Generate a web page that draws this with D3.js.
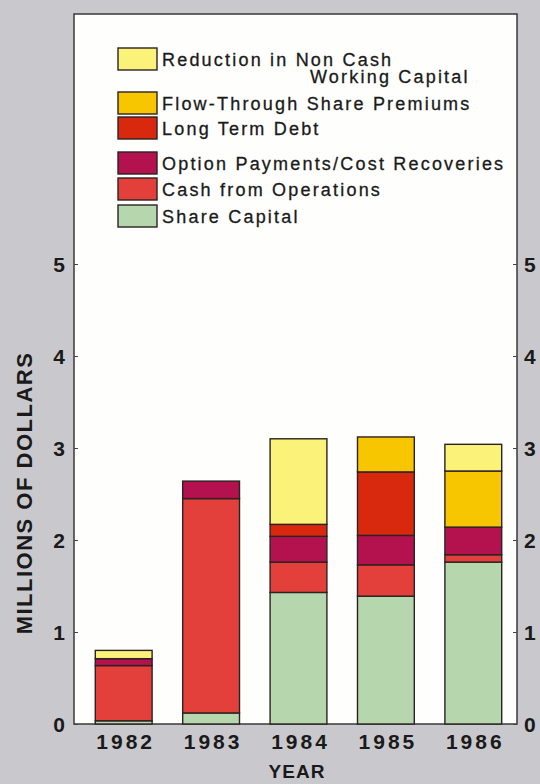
<!DOCTYPE html>
<html>
<head>
<meta charset="utf-8">
<script src="https://cdn.jsdelivr.net/npm/d3@7"></script>
<style>
  body { margin: 0; background: #c9c9cd; }
  svg { display: block; }
  text { font-family: "Liberation Sans", Arial, sans-serif; fill: #1a1a1a; }
</style>
</head>
<body>
<svg id="chart" width="540" height="784"></svg>
<script>
// years along the bottom
const years = ["1982", "1983", "1984", "1985", "1986"];

// series, bottom of the stack first (millions of dollars)
const shareCapital   = [0.035, 0.12, 1.43, 1.39, 1.76];
const cashFromOps    = [0.60, 2.33, 0.33, 0.34, 0.08];
const optionPayments = [0.075, 0.19, 0.28, 0.32, 0.30];
const longTermDebt   = [0, 0, 0.13, 0.69, 0];
const flowThrough    = [0, 0, 0, 0.38, 0.61];
const reductionNCWC  = [0.09, 0, 0.93, 0, 0.29];

const yTicks = [0, 1, 2, 3, 4, 5];

const seriesNames = ["Share Capital", "Cash from Operations", "Option Payments/Cost Recoveries",
  "Long Term Debt", "Flow-Through Share Premiums", "Reduction in Non Cash Working Capital"];
const seriesColors = ["#b6d7ae", "#e4403b", "#b3124f", "#d8290e", "#f7c600", "#fbf27a"];
const seriesValues = [shareCapital, cashFromOps, optionPayments, longTermDebt, flowThrough, reductionNCWC];

// build rows for d3.stack
let rows = years.map((y, i) => {
  let r = { year: y };
  seriesNames.forEach((n, k) => r[n] = seriesValues[k][i]);
  return r;
});
let stacked = d3.stack().keys(seriesNames)(rows);

const svg = d3.select("#chart");
const plot = { left: 74, right: 517, top: 14, bottom: 724 };

let x = d3.scaleBand().domain(years).range([80, 517]).paddingInner(0.35).paddingOuter(0.175);
let y = d3.scaleLinear().domain([0, 5]).range([plot.bottom, plot.bottom - 460]);

// white panel
svg.append("rect")
  .attr("x", plot.left).attr("y", plot.top)
  .attr("width", plot.right - plot.left).attr("height", plot.bottom - plot.top)
  .attr("fill", "#fefefd")
  .attr("stroke", "#3a3a3a").attr("stroke-width", 1.5);

// bars
let layers = svg.append("g").selectAll("g")
  .data(stacked)
  .enter().append("g")
  .attr("fill", (d, i) => seriesColors[i]);

layers.selectAll("rect")
  .data(d => d.filter(s => s[1] - s[0] > 0))
  .enter().append("rect")
  .attr("x", d => x(d.data.year))
  .attr("width", x.bandwidth())
  .attr("y", d => y(d[1]))
  .attr("height", d => y(d[0]) - y(d[1]))
  .attr("stroke", "#2b2222").attr("stroke-width", 1.4);

// left axis
let left = svg.append("g").attr("transform", `translate(${plot.left},0)`)
  .call(d3.axisRight(y).tickValues(yTicks).tickSize(4).tickFormat(""));
left.select(".domain").remove();
left.selectAll("line").attr("stroke", "#444");
svg.append("g").selectAll("text")
  .data(yTicks).enter().append("text")
  .attr("x", 65).attr("y", d => y(d) + 7.5)
  .attr("text-anchor", "end")
  .style("font-size", "21px").style("font-weight", "bold")
  .text(d => d);

// right axis
let right = svg.append("g").attr("transform", `translate(${plot.right},0)`)
  .call(d3.axisLeft(y).tickValues(yTicks).tickSize(4).tickFormat(""));
right.select(".domain").remove();
right.selectAll("line").attr("stroke", "#444");
svg.append("g").selectAll("text")
  .data(yTicks).enter().append("text")
  .attr("x", 524).attr("y", d => y(d) + 7.5)
  .style("font-size", "21px").style("font-weight", "bold")
  .text(d => d);

// x labels
svg.append("g").selectAll("text")
  .data(years).enter().append("text")
  .attr("x", d => x(d) + x.bandwidth() / 2 + 2)
  .attr("y", 749)
  .attr("text-anchor", "middle")
  .style("font-size", "21px").style("font-weight", "bold").style("letter-spacing", "3px")
  .text(d => d);

svg.append("text")
  .attr("x", 297).attr("y", 778)
  .attr("text-anchor", "middle")
  .style("font-size", "19px").style("font-weight", "bold").style("letter-spacing", "1px")
  .text("YEAR");

svg.append("text")
  .attr("transform", "translate(32,493) rotate(-90)")
  .attr("text-anchor", "middle")
  .style("font-size", "22px").style("font-weight", "bold").style("letter-spacing", "1.5px")
  .text("MILLIONS OF DOLLARS");

// legend (top to bottom, reversed series order)
const legendRows = [
  { k: 5, y: 48, lines: ["Reduction in Non Cash", "Working Capital"] },
  { k: 4, y: 92, lines: ["Flow-Through Share Premiums"] },
  { k: 3, y: 117, lines: ["Long Term Debt"] },
  { k: 2, y: 152, lines: ["Option Payments/Cost Recoveries"] },
  { k: 1, y: 178, lines: ["Cash from Operations"] },
  { k: 0, y: 205, lines: ["Share Capital"] }
];
let leg = svg.append("g");
legendRows.forEach(r => {
  leg.append("rect")
    .attr("x", 118).attr("y", r.y).attr("width", 39).attr("height", 22)
    .attr("fill", seriesColors[r.k])
    .attr("stroke", "#2b2222").attr("stroke-width", 1.4);
  leg.append("text")
    .attr("x", 162).attr("y", r.y + 18)
    .style("font-size", "18px").style("letter-spacing", "2.2px")
    .style("stroke", "#1a1a1a").style("stroke-width", "0.3px")
    .text(r.lines[0]);
  if (r.lines[1]) {
    leg.append("text")
      .attr("x", 310).attr("y", r.y + 35)
      .style("font-size", "18px").style("letter-spacing", "2.2px")
      .style("stroke", "#1a1a1a").style("stroke-width", "0.3px")
      .text(r.lines[1]);
  }
});
</script>
</body>
</html>
